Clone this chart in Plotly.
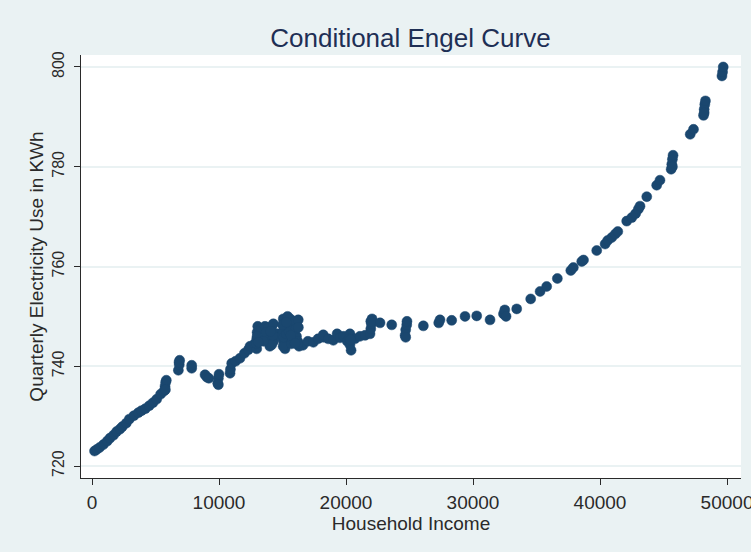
import plotly.graph_objects as go

income = [200, 370, 600, 900, 1200, 1420, 1700, 1940, 2200, 2390, 2700, 2940, 3300, 3650, 3900, 4200,
          4510, 4800, 5090, 5400, 5650, 5750, 5800, 5850, 6800, 6870, 6900, 7850, 7850, 8900, 9050, 9200,
          9900, 9950, 10000, 10870, 10900, 11000, 11300, 11650, 12000, 12310, 12440, 12800, 12970, 12970,
          13000, 13050, 13300, 13620, 13620, 13900, 14000, 14100, 14280, 14300, 14600, 14800, 15060, 15060,
          15100, 15200, 15400, 15600, 15800, 16000, 16100, 16240, 16300, 16610, 17000, 17430, 17800, 18210,
          18210, 18600, 19000, 19300, 19530, 19800, 20100, 20310, 20310, 20400, 20700, 21100, 21500, 21890,
          21950, 22000, 22050, 22680, 23600, 24650, 24700, 24780, 24800, 26090, 27300, 27400, 28320, 29370,
          30290, 31340, 32400, 32500, 32600, 33440, 34540, 35280, 35800, 36640, 37700, 37900, 38560, 38700,
          39740, 40400, 40600, 40920, 41200, 41400, 42100, 42500, 42800, 43020, 43150, 43680, 44460, 44720,
          45600, 45650, 45700, 45750, 47100, 47360, 48150, 48200, 48250, 48300, 49600, 49650, 49700,
          12950, 13000, 13700, 14150, 14200, 14250, 15050, 15100, 15150, 15300, 15500, 15700, 15900, 16050,
          16200, 16250, 16200, 15000, 13500, 20250, 20350, 21950, 24700, 6850, 9950, 5780, 48200, 45700,
          15300, 15650, 16000, 14050, 13100]
electricity = [723.0, 723.3, 723.7, 724.3, 725.0, 725.6, 726.2, 726.9, 727.4, 727.9, 728.6, 729.4, 730.1, 730.7,
               731.1, 731.5, 732.1, 732.7, 733.4, 734.4, 735.0, 736.0, 736.8, 737.2, 739.2, 740.3, 741.2, 739.6,
               740.2, 738.3, 737.8, 737.6, 736.6, 737.6, 738.4, 738.6, 739.4, 740.6, 741.0, 741.6, 742.6, 743.3,
               744.0, 744.5, 743.5, 745.5, 746.8, 748.0, 747.5, 748.0, 745.5, 747.8, 744.0, 746.0, 748.5, 745.0,
               746.5, 746.0, 749.5, 747.0, 745.0, 743.5, 750.0, 749.5, 748.0, 749.0, 746.0, 749.3, 744.0, 744.2,
               745.0, 744.8, 745.5, 745.8, 746.3, 745.5, 745.2, 746.5, 745.7, 746.0, 745.0, 744.3, 746.5, 743.2,
               745.5, 746.0, 746.2, 746.5, 747.5, 748.5, 749.5, 748.7, 748.3, 746.2, 747.3, 748.3, 749.0, 748.1,
               748.7, 749.3, 749.2, 750.0, 750.1, 749.3, 750.5, 751.3, 750.0, 751.5, 753.5, 755.0, 756.0, 757.6,
               759.2, 759.8, 761.0, 761.3, 763.2, 764.5, 765.2, 765.8, 766.5, 767.0, 769.1, 769.8, 770.6, 771.5,
               772.1, 774.0, 776.3, 777.3, 779.5, 780.5, 781.5, 782.3, 786.5, 787.5, 790.3, 791.5, 792.5, 793.2,
               798.2, 799.0, 800.0,
               744.5, 746.0, 746.8, 744.3, 747.0, 746.2, 744.0, 745.8, 748.5, 746.5, 747.0, 744.5, 745.0, 747.5,
               745.0, 747.8, 744.5, 748.3, 745.0, 745.5, 745.3, 749.0, 745.8, 740.8, 736.3, 735.3, 790.8, 780.0,
               748.8, 746.2, 744.6, 747.0, 744.8]

x_ticks = [0, 10000, 20000, 30000, 40000, 50000]
y_ticks = [720, 740, 760, 780, 800]

navy = "#1a476f"
bg = "#eaf2f3"
font = "Liberation Sans, Arial, sans-serif"
txt = "#2a2a2a"

fig = go.Figure(go.Scatter(
    x=income, y=electricity, mode="markers",
    marker=dict(color=navy, size=10, line=dict(color=navy, width=0.5)),
    showlegend=False,
))

fig.update_layout(
    width=751, height=552,
    paper_bgcolor=bg, plot_bgcolor="white",
    margin=dict(l=81, r=10, t=55, b=74),
    title=dict(text="Conditional Engel Curve", x=0.5465, xanchor="center", y=0.931, yanchor="middle",
               font=dict(family=font, size=26, color="#1e2f55")),
    font=dict(family=font, color=txt),
)

fig.update_xaxes(
    range=[-866, 51100], tickvals=x_ticks, ticktext=[str(v) for v in x_ticks],
    showgrid=False, zeroline=False, showline=True, linecolor=txt, linewidth=1,
    ticks="outside", ticklen=6, tickcolor=txt, automargin=False, ticklabelstandoff=1,
    ticklabeloverflow="allow",
    tickfont=dict(size=19, color=txt),
    title=dict(text="Household Income", font=dict(size=19, color=txt), standoff=0),
)
fig.update_yaxes(
    range=[717.6, 802.4], tickvals=y_ticks, ticktext=[str(v) for v in y_ticks],
    showgrid=True, gridcolor=bg, gridwidth=1.5, zeroline=False,
    showline=True, linecolor=txt, linewidth=1, automargin=False, ticklabelstandoff=4,
    ticks="outside", ticklen=6, tickcolor=txt, tickangle=-90,
    tickfont=dict(size=16, color=txt),
    title=dict(text="Quarterly Electricity Use in KWh", font=dict(size=19, color=txt), standoff=0),
)

fig.write_html("out.html", config={"displayModeBar": False},
               post_script="document.body.style.margin='0';document.body.style.background='#eaf2f3';")
